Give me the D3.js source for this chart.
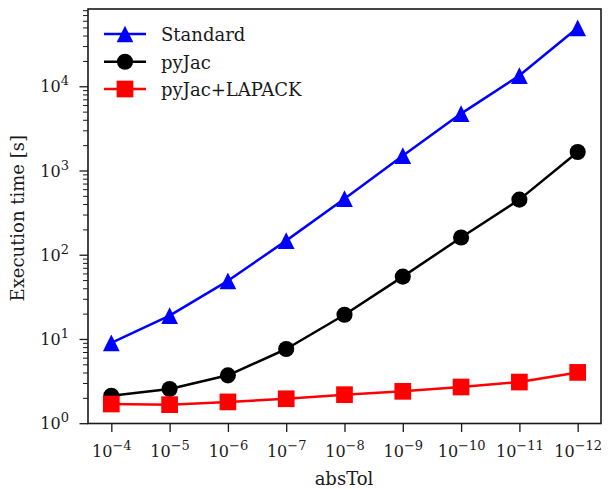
<!DOCTYPE html>
<html>
<head>
<meta charset="utf-8">
<script src="https://cdn.jsdelivr.net/npm/d3@7"></script>
<style>
  body { margin: 0; background: #fff; }
  text { font-family: "DejaVu Serif", serif; fill: #1a1a1a; }
</style>
</head>
<body>
<div id="chart"></div>
<script>
// absTol values (x) and their exponents for the tick labels
var absTol = [1e-4, 1e-5, 1e-6, 1e-7, 1e-8, 1e-9, 1e-10, 1e-11, 1e-12];
var tolExponents = [-4, -5, -6, -7, -8, -9, -10, -11, -12];
var yMajorExponents = [0, 1, 2, 3, 4];

// execution times [s]
var standard    = [9.0, 18.9, 49, 147, 463, 1500, 4740, 13400, 49400];
var pyJac       = [2.12, 2.55, 3.7, 7.6, 19.4, 55, 160, 451, 1660];
var pyJacLapack = [1.69, 1.66, 1.79, 1.95, 2.18, 2.39, 2.69, 3.08, 4.01];

var seriesNames  = ["Standard", "pyJac", "pyJac+LAPACK"];
var seriesColors = ["#0000ff", "#000000", "#ff0000"];
var seriesShapes = ["triangle", "circle", "square"];

!function(){
  var svgWidth = 608, svgHeight = 489;
  var margin = {top: 9, right: 7, bottom: 65.5, left: 88};
  var width = svgWidth - margin.left - margin.right,
      height = svgHeight - margin.top - margin.bottom;

  var svg = d3.select("#chart").append("svg")
    .attr("width", svgWidth).attr("height", svgHeight);
  var g = svg.append("g")
    .attr("transform", "translate(" + margin.left + "," + margin.top + ")");

  var series = [standard, pyJac, pyJacLapack].map(function(vals, i){
    return {name: seriesNames[i], color: seriesColors[i], shape: seriesShapes[i],
      values: vals.map(function(v, j){ return {tol: absTol[j], t: v}; })};
  });

  // matplotlib-like 5% margins in log space
  var lx = d3.extent(absTol, function(d){ return Math.log10(d); });
  var padX = 0.05 * (lx[1] - lx[0]);
  var x = d3.scaleLog()
    .domain([Math.pow(10, lx[1] + padX), Math.pow(10, lx[0] - padX)])
    .range([0, width]);

  var allT = d3.merge([standard, pyJac, pyJacLapack]);
  var ly = d3.extent(allT, function(d){ return Math.log10(d); });
  var padY = 0.05 * (ly[1] - ly[0]);
  var y = d3.scaleLog()
    .domain([Math.pow(10, ly[0] - padY), Math.pow(10, ly[1] + padY)])
    .range([height, 0]);

  function powLabel(sel, exps, baseSize, supSize, supDy){
    sel.each(function(d, i){
      var t = d3.select(this).text(null);
      t.append("tspan").style("font-size", baseSize + "px").text("10");
      var e = exps[i];
      t.append("tspan").attr("dy", supDy).style("font-size", supSize + "px")
        .text(e < 0 ? "\u2212" + (-e) : String(e));
    });
  }

  // x axis
  var xAxis = d3.axisBottom(x).tickValues(absTol).tickSize(8.5).tickPadding(0).tickFormat("");
  var gx = g.append("g").attr("transform", "translate(0," + height + ")").call(xAxis);
  gx.select(".domain").remove();
  gx.selectAll(".tick line").attr("stroke", "#1a1a1a").attr("stroke-width", 1.3);
  gx.selectAll(".tick").append("text")
    .attr("y", 33.5).attr("text-anchor", "middle")
    .call(powLabel, tolExponents, 16, 13, -7);

  // y axis minor ticks
  var yMinor = [];
  yMajorExponents.forEach(function(e){
    for (var k = 2; k <= 9; k++) {
      var v = k * Math.pow(10, e);
      if (v >= y.domain()[0] && v <= y.domain()[1]) yMinor.push(v);
    }
  });
  var gyMinor = g.append("g").call(d3.axisLeft(y).tickValues(yMinor).tickSize(5).tickFormat(""));
  gyMinor.select(".domain").remove();
  gyMinor.selectAll(".tick line").attr("stroke", "#1a1a1a").attr("stroke-width", 1);

  var yMajor = yMajorExponents.map(function(e){ return Math.pow(10, e); });
  var gy = g.append("g").call(d3.axisLeft(y).tickValues(yMajor).tickSize(8.5).tickFormat(""));
  gy.select(".domain").remove();
  gy.selectAll(".tick line").attr("stroke", "#1a1a1a").attr("stroke-width", 1.3);
  gy.selectAll(".tick").append("text")
    .attr("x", -19).attr("y", 5.5).attr("text-anchor", "end")
    .call(powLabel, yMajorExponents, 16, 13, -7);

  // frame
  g.append("rect").attr("width", width).attr("height", height)
    .attr("fill", "none").attr("stroke", "#1a1a1a").attr("stroke-width", 1.6);

  // axis labels
  svg.append("text").attr("x", margin.left + width / 2 - 0.5).attr("y", 485)
    .attr("text-anchor", "middle").style("font-size", "18px").text("absTol");
  svg.append("text")
    .attr("transform", "translate(24," + (margin.top + height / 2 + 2) + ") rotate(-90)")
    .attr("text-anchor", "middle").style("font-size", "18px").text("Execution time [s]");

  var ms = 16.7;
  function marker(sel, shape, color){
    if (shape === "circle") {
      sel.append("circle").attr("r", ms / 2 - 0.3).attr("fill", color);
    } else if (shape === "square") {
      sel.append("rect").attr("x", -ms / 2).attr("y", -ms / 2)
        .attr("width", ms).attr("height", ms).attr("fill", color);
    } else {
      sel.append("path").attr("d", "M0," + (-ms / 2) + "L" + (-ms / 2) + "," + (ms / 2) +
        "L" + (ms / 2) + "," + (ms / 2) + "Z").attr("fill", color);
    }
  }

  var line = d3.line()
    .x(function(d){ return x(d.tol); })
    .y(function(d){ return y(d.t); });

  series.forEach(function(s){
    g.append("path").datum(s.values)
      .attr("fill", "none").attr("stroke", s.color).attr("stroke-width", 2.5)
      .attr("stroke-linejoin", "round").attr("d", line);
    g.append("g").selectAll("g").data(s.values).enter().append("g")
      .attr("transform", function(d){ return "translate(" + x(d.tol) + "," + y(d.t) + ")"; })
      .each(function(){ marker(d3.select(this), s.shape, s.color); });
  });

  // legend
  var legend = svg.append("g");
  var rowY = [34, 61.7, 89];
  series.forEach(function(s, i){
    var row = legend.append("g").attr("transform", "translate(0," + rowY[i] + ")");
    row.append("line").attr("x1", 104).attr("x2", 146)
      .attr("stroke", s.color).attr("stroke-width", 2.5);
    var m = row.append("g").attr("transform", "translate(125,0)");
    marker(m, s.shape, s.color);
    row.append("text").attr("x", 161).attr("y", 7).style("font-size", "18px").text(s.name);
  });
}();
</script>
</body>
</html>
